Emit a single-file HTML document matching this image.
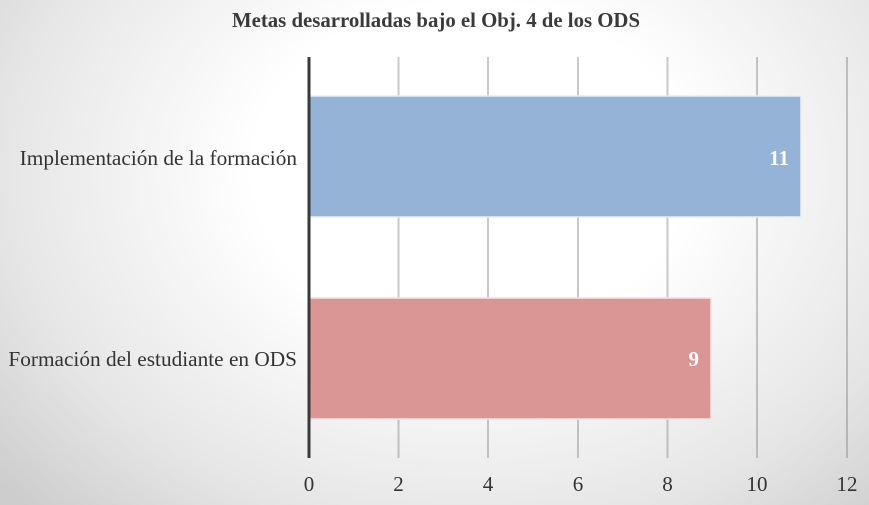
<!DOCTYPE html>
<html><head><style>
html,body{margin:0;padding:0}
body{width:869px;height:505px;overflow:hidden;background:radial-gradient(ellipse 620px 480px at 470px 170px,#ffffff 0%,#ffffff 35%,#e6e6e6 75%,#cdcdcd 100%);font-family:"Liberation Serif",serif;position:relative}
</style></head><body>
<svg width="869" height="505" style="position:absolute;left:0;top:0">
<text x="436" y="27" text-anchor="middle" font-family="Liberation Serif" font-weight="bold" font-size="20.8" fill="#3a3a3a">Metas desarrolladas bajo el Obj. 4 de los ODS</text>
<g stroke="rgba(120,120,120,0.4)" stroke-width="2">
<line x1="398.5" y1="57" x2="398.5" y2="458"/>
<line x1="488" y1="57" x2="488" y2="458"/>
<line x1="578" y1="57" x2="578" y2="458"/>
<line x1="667.5" y1="57" x2="667.5" y2="458"/>
<line x1="757" y1="57" x2="757" y2="458"/>
<line x1="847" y1="57" x2="847" y2="458"/>
</g>
<rect x="309" y="96" width="492" height="121" fill="#95b3d7" stroke="#e8eef6" stroke-width="1.5"/>
<rect x="309" y="298" width="402" height="121" fill="#d99694" stroke="#f4e2e2" stroke-width="1.5"/>
<line x1="309" y1="57" x2="309" y2="458" stroke="#3a3a3a" stroke-width="3"/>
<g font-family="Liberation Serif" font-weight="bold" font-size="21" fill="#fff" text-anchor="end">
<text x="789" y="165">11</text>
<text x="699" y="366">9</text>
</g>
<g font-family="Liberation Serif" font-size="21.3" fill="#333" text-anchor="end">
<text x="297" y="165">Implementación de la formación</text>
<text x="297" y="366">Formación del estudiante en ODS</text>
</g>
<g font-family="Liberation Serif" font-size="21" fill="#333" text-anchor="middle">
<text x="309" y="491">0</text><text x="398.5" y="491">2</text><text x="488" y="491">4</text><text x="578" y="491">6</text><text x="667.5" y="491">8</text><text x="757" y="491">10</text><text x="847" y="491">12</text>
</g>
</svg>
</body></html>
